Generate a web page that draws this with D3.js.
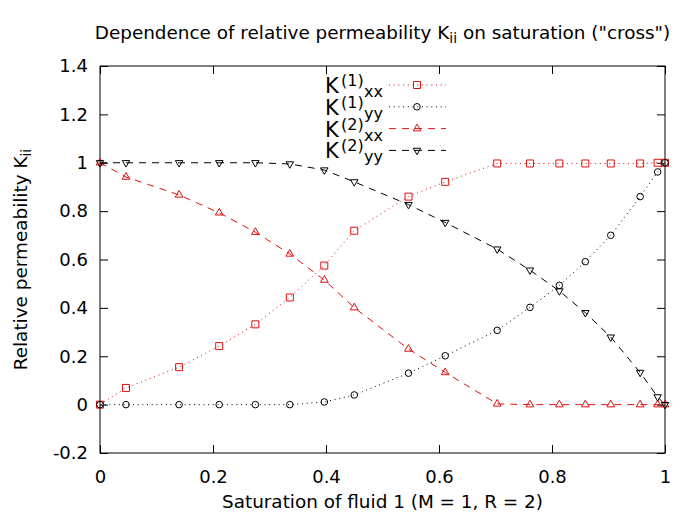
<!DOCTYPE html>
<html><head><meta charset="utf-8">
<script src="https://cdn.jsdelivr.net/npm/d3@7/dist/d3.min.js"></script>
<style>body{margin:0;background:#fff} text{font-family:"DejaVu Sans",sans-serif;fill:#000}</style>
</head><body><svg id="c" width="700" height="524"></svg>
<script>
// ---- data ----
const saturation = [0, 0.046, 0.140, 0.211, 0.275, 0.336, 0.397, 0.450, 0.546, 0.611, 0.703, 0.761, 0.813, 0.859, 0.904, 0.956, 0.987, 1.0];
const k1xx = [0, 0.069, 0.155, 0.242, 0.332, 0.443, 0.575, 0.719, 0.860, 0.921, 0.997, 0.997, 0.997, 0.997, 0.997, 0.997, 1.0, 1.0];
const k1yy = [0, 0, 0, 0, 0, 0, 0.011, 0.040, 0.130, 0.202, 0.307, 0.402, 0.493, 0.591, 0.700, 0.860, 0.962, 1.0];
const k2xx = [1.0, 0.941, 0.867, 0.793, 0.713, 0.623, 0.515, 0.401, 0.230, 0.133, 0.003, 0, 0, 0, 0, 0, 0, 0];
const k2yy = [1.0, 1.0, 1.0, 1.0, 1.0, 0.995, 0.970, 0.921, 0.827, 0.753, 0.643, 0.556, 0.470, 0.380, 0.279, 0.133, 0.032, 0];
const seriesSup = ["(1)", "(1)", "(2)", "(2)"];
const seriesSub = ["xx", "yy", "xx", "yy"];
const xTicks = [0, 0.2, 0.4, 0.6, 0.8, 1];
const yTicks = [-0.2, 0, 0.2, 0.4, 0.6, 0.8, 1, 1.2, 1.4];
const titleMain = "Dependence of relative permeability K";
const titleSub = "ii";
const titleEnd = " on saturation (\"cross\")";
const xLabel = "Saturation of fluid 1 (M = 1, R = 2)";
const yLabelMain = "Relative permeability K";
const yLabelSub = "ii";

// ---- layout ----
const L = 100, R = 665, T = 66, B = 453;
const RED = "#e01010", BLACK = "#000";
const styles = [
  {color: RED, dash: "1,3.7", sym: d3.symbolSquare, size: 49, rot: 0},
  {color: BLACK, dash: "1,3.7", sym: d3.symbolCircle, size: 34, rot: 0},
  {color: RED, dash: "7,6", sym: d3.symbolTriangle, size: 26, rot: 0},
  {color: BLACK, dash: "7,6", sym: d3.symbolTriangle, size: 24, rot: 180}
];
const allSeries = [k1xx, k1yy, k2xx, k2yy];

const svg = d3.select("#c");
const x = d3.scaleLinear().domain([0, 1]).range([L, R]);
const y = d3.scaleLinear().domain([-0.2, 1.4]).range([B, T]);
const fmt = d => String(+d.toFixed(1));

// axes
const ax = svg.append("g").attr("transform", `translate(0,${B})`)
  .call(d3.axisBottom(x).tickValues(xTicks).tickSize(-8).tickPadding(17).tickFormat(fmt));
const axT = svg.append("g").attr("transform", `translate(0,${T})`)
  .call(d3.axisTop(x).tickValues(xTicks).tickSize(-8).tickFormat(""));
const ay = svg.append("g").attr("transform", `translate(${L},0)`)
  .call(d3.axisLeft(y).tickValues(yTicks).tickSize(-8).tickPadding(12).tickFormat(fmt));
const ayR = svg.append("g").attr("transform", `translate(${R},0)`)
  .call(d3.axisRight(y).tickValues(yTicks).tickSize(-8).tickFormat(""));
[ax, axT, ay, ayR].forEach(g => {
  g.select(".domain").remove();
  g.selectAll("line").attr("stroke", "#000").attr("stroke-width", 1);
  g.selectAll("text").attr("font-size", 18).attr("font-family", "DejaVu Sans").attr("fill", "#000");
});

// frame
svg.append("rect").attr("x", L).attr("y", T).attr("width", R - L).attr("height", B - T)
  .attr("fill", "none").attr("stroke", "#000").attr("stroke-width", 1);

// series
const line = d3.line().x((d, i) => x(saturation[i])).y(d => y(d));
allSeries.forEach((s, k) => {
  const st = styles[k];
  svg.append("path").attr("d", line(s)).attr("fill", "none")
    .attr("stroke", st.color).attr("stroke-width", 1).attr("stroke-dasharray", st.dash);
  svg.append("g").selectAll("path").data(s).join("path")
    .attr("d", d3.symbol().type(st.sym).size(st.size))
    .attr("transform", (d, i) => `translate(${x(saturation[i])},${y(d)}) rotate(${st.rot})`)
    .attr("fill", "none").attr("stroke", st.color).attr("stroke-width", 1);
});

// legend
const legRow0 = 85, legStep = 21.8;
allSeries.forEach((s, k) => {
  const st = styles[k];
  const yy = legRow0 + k * legStep;
  svg.append("line").attr("x1", 389).attr("x2", 446).attr("y1", yy).attr("y2", yy)
    .attr("stroke", st.color).attr("stroke-width", 1).attr("stroke-dasharray", st.dash);
  svg.append("path").attr("d", d3.symbol().type(st.sym).size(st.size))
    .attr("transform", `translate(417,${yy}) rotate(${st.rot})`)
    .attr("fill", "none").attr("stroke", st.color).attr("stroke-width", 1);
  const t = svg.append("text").attr("y", yy + 8);
  t.append("tspan").attr("x", 325).attr("font-size", 21).text("K");
  t.append("tspan").attr("x", 341).attr("dy", -7).attr("font-size", 16).text(seriesSup[k]);
  t.append("tspan").attr("x", 364).attr("dy", 11).attr("font-size", 16).text(seriesSub[k]);
});

// title
const tt = svg.append("text").attr("x", (L + R) / 2).attr("y", 39).attr("text-anchor", "middle").attr("font-size", 18.4);
tt.append("tspan").text(titleMain);
tt.append("tspan").attr("dy", 4).attr("font-size", 14).text(titleSub);
tt.append("tspan").attr("dy", -4).text(titleEnd);

// x label
svg.append("text").attr("x", (L + R) / 2).attr("y", 508).attr("text-anchor", "middle")
  .attr("font-size", 18.4).text(xLabel);

// y label
const yl = svg.append("text").attr("transform", `translate(27,${(T + B) / 2}) rotate(-90)`)
  .attr("text-anchor", "middle").attr("font-size", 18.4);
yl.append("tspan").text(yLabelMain);
yl.append("tspan").attr("dy", 4).attr("font-size", 14).text(yLabelSub);
</script></body></html>
